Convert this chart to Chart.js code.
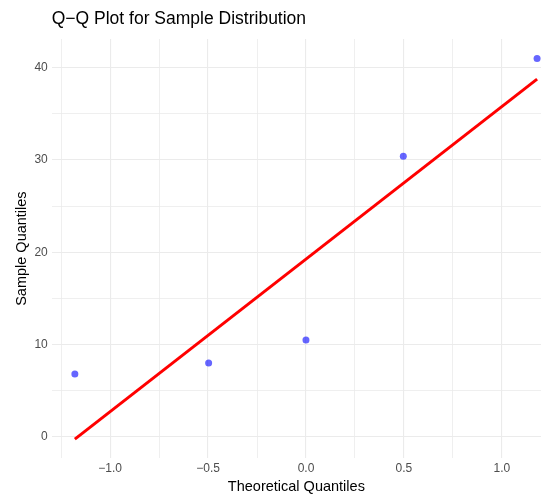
<!DOCTYPE html>
<html>
<head>
<meta charset="utf-8">
<script src="https://cdn.jsdelivr.net/npm/chart.js@4.4.1/dist/chart.umd.min.js"></script>
<style>
  html, body { margin: 0; padding: 0; background: #fff; }
  #wrap { position: relative; width: 547px; height: 496px; }
</style>
</head>
<body>
<div id="wrap"><canvas id="qq"></canvas></div>
<script>
// theoretical vs sample quantiles
const theoQuantiles = [-1.18, -0.497, 0, 0.497, 1.18];
const sampleValues  = [6.8, 8.0, 10.5, 30.4, 41.0];
// reference line (qqline) end points
const lineX = [-1.18, 1.18];
const lineY = [-0.25, 38.75];

const xTicks = [-1.25, -1.0, -0.75, -0.5, -0.25, 0, 0.25, 0.5, 0.75, 1.0];
const yTicks = [0, 5, 10, 15, 20, 25, 30, 35, 40];

const FONT = 'Liberation Sans, Arial, sans-serif';
const isMajorX = v => Math.abs(v * 2 - Math.round(v * 2)) < 1e-6;
const isMajorY = v => v % 10 === 0;

new Chart(document.getElementById('qq'), {
  type: 'scatter',
  data: {
    datasets: [
      {
        type: 'line',
        data: lineX.map((x, i) => ({ x, y: lineY[i] })),
        borderColor: '#ff0000',
        borderWidth: 3,
        pointRadius: 0,
        order: 1
      },
      {
        data: theoQuantiles.map((x, i) => ({ x, y: sampleValues[i] })),
        backgroundColor: 'rgba(0,0,255,0.6)',
        borderWidth: 0,
        pointRadius: 3.5,
        order: 2
      }
    ]
  },
  options: {
    responsive: true,
    maintainAspectRatio: false,
    animation: false,
    layout: { padding: { top: 2, right: 6, left: 13, bottom: 0 } },
    plugins: {
      legend: { display: false },
      tooltip: { enabled: false },
      title: {
        display: true,
        text: 'Q−Q Plot for Sample Distribution',
        align: 'start',
        fullSize: false,
        color: '#000',
        font: { family: FONT, size: 17.5, weight: 'normal' },
        padding: { top: 7, bottom: 9 }
      }
    },
    scales: {
      x: {
        type: 'linear',
        min: -1.298,
        max: 1.2,
        afterBuildTicks: s => { s.ticks = xTicks.map(v => ({ value: v })); },
        grid: {
          drawTicks: false,
          color: '#ebebeb',
          lineWidth: c => (isMajorX(c.tick.value) ? 1.1 : 0.8)
        },
        border: { display: false },
        ticks: {
          autoSkip: false,
          maxRotation: 0,
          padding: 3,
          color: '#4d4d4d',
          font: { family: FONT, size: 12 },
          callback: v => {
            if (!isMajorX(v)) return '';
            return (v < 0 ? '−' : '') + Math.abs(v).toFixed(1);
          }
        },
        title: {
          display: true,
          text: 'Theoretical Quantiles',
          color: '#000',
          font: { family: FONT, size: 14.5 },
          padding: { top: 0, bottom: 0 }
        }
      },
      y: {
        type: 'linear',
        min: -2.32,
        max: 43.1,
        afterBuildTicks: s => { s.ticks = yTicks.map(v => ({ value: v })); },
        grid: {
          drawTicks: false,
          color: '#ebebeb',
          lineWidth: c => (isMajorY(c.tick.value) ? 1.1 : 0.8)
        },
        border: { display: false },
        ticks: {
          autoSkip: false,
          padding: 4,
          color: '#4d4d4d',
          font: { family: FONT, size: 12 },
          callback: v => (isMajorY(v) ? String(v) : '')
        },
        title: {
          display: true,
          text: 'Sample Quantiles',
          color: '#000',
          font: { family: FONT, size: 14.5 },
          padding: { top: 0, bottom: 0 }
        }
      }
    }
  }
});
</script>
</body>
</html>
